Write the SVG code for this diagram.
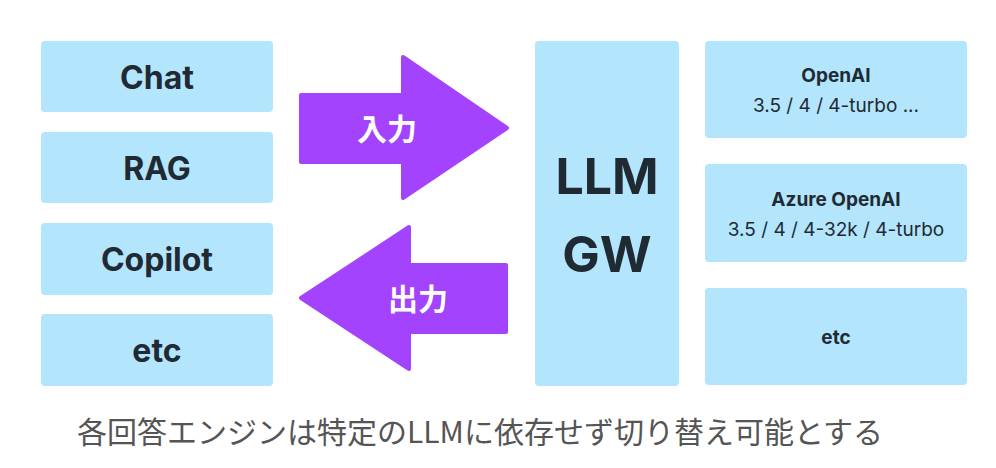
<svg xmlns="http://www.w3.org/2000/svg" width="996" height="468" viewBox="0 0 996 468">
<style>
.box{fill:#b3e5fc}
.arrow{fill:#a443fd;stroke:#a443fd;stroke-width:4;stroke-linejoin:round}
.lbl{font-family:Inter,"Noto Sans","Noto Sans CJK JP",sans-serif;font-weight:700;fill:#1f2a33;text-anchor:middle}
.sub{font-family:Inter,"Noto Sans",sans-serif;font-weight:400;fill:#1f2a33;text-anchor:middle;font-size:19px}
.jp{font-family:"Noto Sans CJK JP",sans-serif;font-weight:700;fill:#ffffff;text-anchor:middle;font-size:30px}
.note{font-family:"Noto Sans CJK JP",sans-serif;font-weight:400;fill:#555555;font-size:30px}
</style>
<rect width="996" height="468" fill="#ffffff"/>
<g id="chat"><rect class="box" x="41" y="41" width="232" height="71" rx="4"/><text class="lbl" x="157" y="89" font-size="32">Chat</text></g>
<g id="rag"><rect class="box" x="41" y="132" width="232" height="71" rx="4"/><text class="lbl" x="157" y="180" font-size="32">RAG</text></g>
<g id="copilot"><rect class="box" x="41" y="223" width="232" height="72" rx="4"/><text class="lbl" x="157" y="271" font-size="32">Copilot</text></g>
<g id="etc-left"><rect class="box" x="41" y="314" width="232" height="72" rx="4"/><text class="lbl" x="157" y="362" font-size="32">etc</text></g>
<g id="connectors">
<g id="input-arrow"><polygon class="arrow" points="301,95 403,95 403,57 507,128 403,198 403,162 301,162"/><text class="jp" x="387" y="140">入力</text></g>
<g id="output-arrow"><polygon class="arrow" points="506,265 409,265 409,227 301,298 409,369 409,332 506,332"/><text class="jp" x="418" y="310">出力</text></g>
</g>
<g id="llm-gw"><rect class="box" x="535" y="41" width="144" height="345" rx="4"/><text class="lbl" x="607" y="194" font-size="50">LLM</text><text class="lbl" x="607" y="272" font-size="50">GW</text></g>
<g id="openai"><rect class="box" x="705" y="41" width="262" height="97" rx="4"/><text class="lbl" x="836" y="82" font-size="19">OpenAI</text><text class="sub" x="836" y="112">3.5 / 4 / 4-turbo ...</text></g>
<g id="azure"><rect class="box" x="705" y="164" width="262" height="98" rx="4"/><text class="lbl" x="836" y="206" font-size="19">Azure OpenAI</text><text class="sub" x="836" y="236">3.5 / 4 / 4-32k / 4-turbo</text></g>
<g id="etc-right"><rect class="box" x="705" y="288" width="262" height="97" rx="4"/><text class="lbl" x="836" y="344" font-size="19">etc</text></g>
<text class="note" x="77" y="443">各回答エンジンは特定のLLMに依存せず切り替え可能とする</text>
</svg>
